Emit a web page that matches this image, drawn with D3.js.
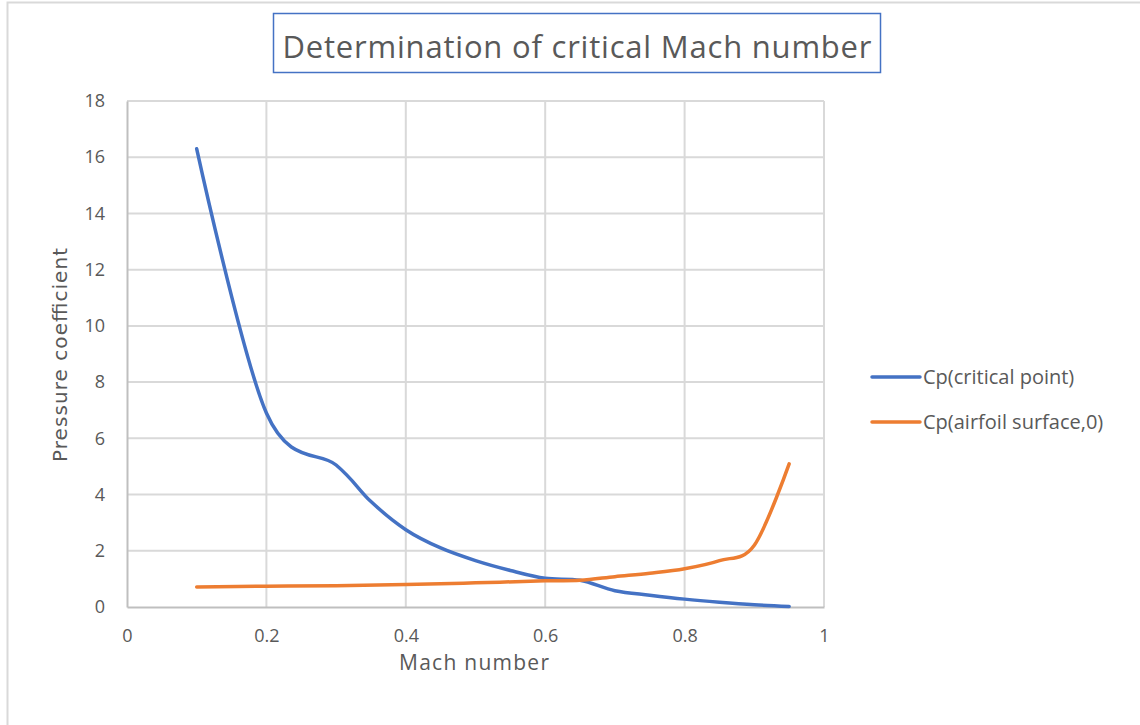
<!DOCTYPE html>
<html>
<head>
<meta charset="utf-8">
<script src="https://cdn.jsdelivr.net/npm/d3@7"></script>
<style>
  body { margin: 0; background: #fff; }
  text { fill: #595959; }
</style>
</head>
<body>
<div class="chart"></div>
<script>
var svgWidth = 1140;
var svgHeight = 725;

// Data
var machCritical = [0.1, 0.2, 0.3, 0.35, 0.4, 0.45, 0.5, 0.55, 0.6, 0.65, 0.7, 0.75, 0.8, 0.85, 0.9, 0.95];
var cpCritical = [16.3, 6.9, 5.05, 3.75, 2.75, 2.1, 1.65, 1.3, 1.02, 0.95, 0.58, 0.42, 0.28, 0.17, 0.08, 0.02];

var machSurface = [0.1, 0.2, 0.3, 0.4, 0.5, 0.6, 0.65, 0.7, 0.75, 0.8, 0.85, 0.9, 0.95];
var cpSurface = [0.71, 0.74, 0.76, 0.8, 0.86, 0.93, 0.95, 1.08, 1.2, 1.36, 1.65, 2.2, 5.09];

var xTicks = [0, 0.2, 0.4, 0.6, 0.8, 1];
var yTicks = [0, 2, 4, 6, 8, 10, 12, 14, 16, 18];

var seriesNames = ["Cp(critical point)", "Cp(airfoil surface,0)"];
var colors = ["#4472C4", "#ED7D31"];

var margin = { top: 101, right: 316, bottom: 118, left: 127 };
var width = svgWidth - margin.left - margin.right;
var height = svgHeight - margin.top - margin.bottom;

var svg = d3.select(".chart")
  .append("svg")
  .attr("width", svgWidth)
  .attr("height", svgHeight);

// outer chart frame
svg.append("rect")
  .attr("x", 7.5)
  .attr("y", 2.5)
  .attr("width", svgWidth + 10)
  .attr("height", svgHeight + 10)
  .attr("fill", "none")
  .attr("stroke", "#d9d9d9")
  .attr("stroke-width", 2);

// title box
svg.append("rect")
  .attr("x", 273.5)
  .attr("y", 13.5)
  .attr("width", 607)
  .attr("height", 59)
  .attr("fill", "#fff")
  .attr("stroke", "#4472C4")
  .attr("stroke-width", 1.5);

svg.append("text")
  .attr("x", 577)
  .attr("y", 58)
  .attr("text-anchor", "middle")
  .attr("textLength", 589)
  .style("font-family", "'Open Sans', sans-serif")
  .style("font-size", "31px")
  .text("Determination of critical Mach number");

var chartGroup = svg.append("g")
  .attr("transform", `translate(${margin.left}, ${margin.top})`);

var x = d3.scaleLinear().domain([0, 1]).range([0, width]);
var y = d3.scaleLinear().domain([0, 18]).range([height, 0]);

// gridlines
chartGroup.append("g")
  .selectAll("line")
  .data(yTicks.slice(1))
  .enter()
  .append("line")
  .attr("x1", 0)
  .attr("x2", width)
  .attr("y1", d => y(d))
  .attr("y2", d => y(d))
  .attr("stroke", "#d9d9d9")
  .attr("stroke-width", 2);

chartGroup.append("g")
  .selectAll("line")
  .data(xTicks.slice(1))
  .enter()
  .append("line")
  .attr("x1", d => x(d))
  .attr("x2", d => x(d))
  .attr("y1", 0)
  .attr("y2", height)
  .attr("stroke", "#d9d9d9")
  .attr("stroke-width", 2);

// axes
var bottomAxis = d3.axisBottom(x).tickValues(xTicks).tickSize(0).tickPadding(22).tickFormat(d3.format("~g"));
var leftAxis = d3.axisLeft(y).tickValues(yTicks).tickSize(0).tickPadding(22);

var xAxisG = chartGroup.append("g")
  .attr("transform", `translate(0, ${height})`)
  .call(bottomAxis);
var yAxisG = chartGroup.append("g").call(leftAxis);

[xAxisG, yAxisG].forEach(function(g) {
  g.select(".domain").attr("stroke", "#bfbfbf").attr("stroke-width", 2);
  g.selectAll("text")
    .attr("fill", "#595959")
    .style("font-family", "'Open Sans', sans-serif")
    .style("font-size", "18px");
});

// lines
var line = d3.line()
  .x(d => x(d[0]))
  .y(d => y(d[1]))
  .curve(d3.curveCardinal.tension(0));

var series = [
  d3.zip(machCritical, cpCritical),
  d3.zip(machSurface, cpSurface)
];

chartGroup.selectAll(".series")
  .data(series)
  .enter()
  .append("path")
  .attr("class", "series")
  .attr("d", line)
  .attr("fill", "none")
  .attr("stroke", (d, i) => colors[i])
  .attr("stroke-width", 3.5)
  .attr("stroke-linecap", "round");

// axis titles
chartGroup.append("text")
  .attr("x", 474 - margin.left)
  .attr("y", height + 63)
  .attr("text-anchor", "middle")
  .attr("textLength", 150)
  .style("font-family", "'Open Sans', sans-serif")
  .style("font-size", "21px")
  .text("Mach number");

chartGroup.append("text")
  .attr("transform", "rotate(-90)")
  .attr("x", -(355 - margin.top))
  .attr("y", -60)
  .attr("text-anchor", "middle")
  .attr("textLength", 214)
  .style("font-family", "'DejaVu Sans', sans-serif")
  .style("font-size", "20px")
  .text("Pressure coefficient");

// legend
var legend = svg.append("g")
  .selectAll("g")
  .data(seriesNames)
  .enter()
  .append("g")
  .attr("transform", (d, i) => `translate(872, ${377 + i * 45})`);

legend.append("line")
  .attr("x1", 0)
  .attr("x2", 48)
  .attr("stroke", (d, i) => colors[i])
  .attr("stroke-width", 3.5)
  .attr("stroke-linecap", "round");

legend.append("text")
  .attr("x", 51)
  .attr("y", 7)
  .style("font-family", "'Open Sans', sans-serif")
  .style("font-size", "20px")
  .text(d => d);
</script>
</body>
</html>
